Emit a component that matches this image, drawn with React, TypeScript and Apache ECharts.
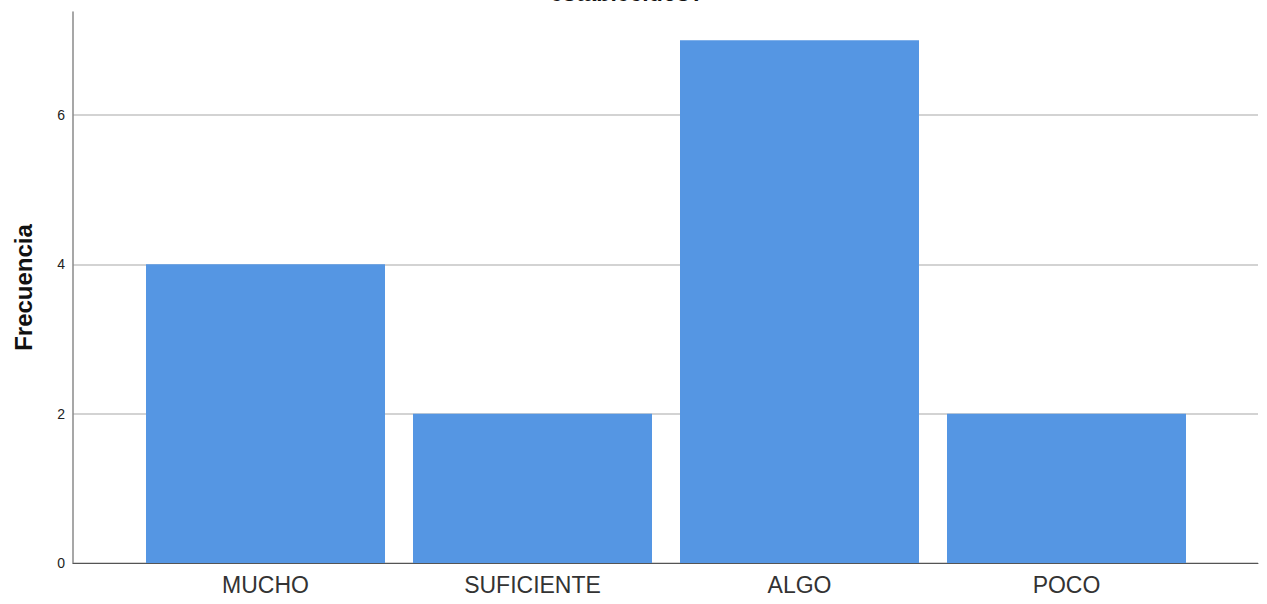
import React, { useEffect, useRef } from "react";
import * as echarts from "echarts";

const categories = ["MUCHO", "SUFICIENTE", "ALGO", "POCO"];
const frequencies = [4, 2, 7, 2];
const titleText = "establecidos?";
const yAxisName = "Frecuencia";

const FONT = "'Liberation Sans', Arial, sans-serif";

export default function App() {
  const ref = useRef<HTMLDivElement>(null);
  useEffect(() => {
    document.body.style.margin = "0";
    const chart = echarts.init(ref.current!, null, { renderer: "svg" });
    chart.setOption({
      animation: false,
      backgroundColor: "#ffffff",
      textStyle: { fontFamily: FONT },
      grid: [
        { left: 73, right: 9, top: 12, bottom: 41 },
        { left: 132, right: 67, top: 12, bottom: 41 },
      ],
      xAxis: [
        {
          gridIndex: 0,
          type: "value",
          min: 0,
          max: 1,
          axisLine: { show: true, lineStyle: { color: "#555555", width: 1 } },
          axisTick: { show: false },
          axisLabel: { show: false },
          splitLine: { show: false },
        },
        {
          gridIndex: 1,
          type: "category",
          data: categories,
          axisLine: { show: false },
          axisTick: { show: false },
          axisLabel: {
            color: "#333333",
            fontSize: 23,
            fontFamily: FONT,
            margin: 10,
          },
          splitLine: { show: false },
        },
      ],
      yAxis: [
        {
          gridIndex: 0,
          type: "value",
          min: 0,
          max: 7.38,
          interval: 2,
          name: yAxisName,
          nameLocation: "middle",
          nameGap: 38,
          nameTextStyle: {
            fontSize: 24,
            fontWeight: "bold",
            color: "#111111",
            fontFamily: FONT,
          },
          axisLine: { show: true, lineStyle: { color: "#8a8a8a", width: 1.5 } },
          axisTick: { show: false },
          axisLabel: {
            color: "#222222",
            fontSize: 14,
            margin: 8,
            showMaxLabel: false,
            fontFamily: FONT,
          },
          splitLine: {
            show: true,
            showMaxLine: false,
            lineStyle: { color: ["#c4c4c4", "#c4c4c4", "#c4c4c4", "#c4c4c4", "transparent"], width: 1.5 },
          },
        },
        {
          gridIndex: 1,
          type: "value",
          min: 0,
          max: 7.38,
          show: false,
          splitLine: { show: false },
        },
      ],
      series: [
        {
          type: "bar",
          xAxisIndex: 1,
          yAxisIndex: 1,
          data: frequencies,
          barWidth: 239,
          itemStyle: { color: "#5596e3" },
        },
      ],
      graphic: [
        {
          type: "text",
          x: 627,
          y: 4,
          style: {
            text: titleText,
            font: `bold 23px ${FONT}`,
            fill: "#111111",
            align: "center",
            verticalAlign: "bottom",
          },
        },
      ],
    });
    return () => chart.dispose();
  }, []);
  return <div ref={ref} style={{ width: 1267, height: 604 }} />;
}
